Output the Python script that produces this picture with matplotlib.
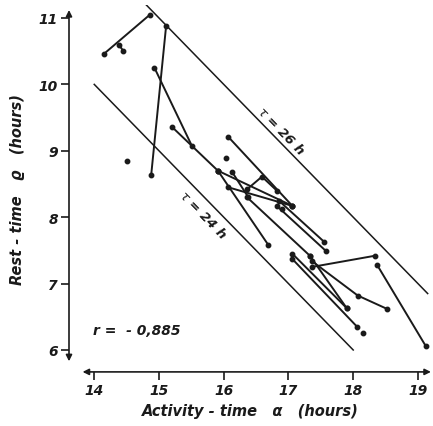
import numpy as np
import matplotlib
matplotlib.use('Agg')
import matplotlib.pyplot as plt

# segments: activity-time alpha (x) and rest-time rho (y), one list per animal
seg_alpha = [
    [14.15, 14.86],
    [14.38, 14.45],
    [14.88, 15.11],
    [14.93, 15.51],
    [15.20, 15.91],
    [15.91, 16.69],
    [15.91, 17.06],
    [16.07, 17.06],
    [16.13, 16.38],
    [16.36, 16.59, 16.82],
    [16.07, 17.06],
    [16.85, 17.55],
    [16.82, 17.58],
    [16.36, 17.33],
    [17.06, 17.90],
    [17.06, 18.06],
    [17.33, 17.90],
    [17.36, 18.07, 18.52],
    [17.36, 18.34],
    [18.37, 19.12],
]
seg_rho = [
    [10.46, 11.05],
    [10.60, 10.50],
    [8.64, 10.88],
    [10.25, 9.07],
    [9.36, 8.70],
    [8.70, 7.58],
    [8.70, 8.17],
    [8.45, 8.17],
    [8.68, 8.30],
    [8.42, 8.61, 8.40],
    [9.21, 8.17],
    [8.25, 7.63],
    [8.17, 7.49],
    [8.30, 7.42],
    [7.45, 6.63],
    [7.37, 6.35],
    [7.42, 6.63],
    [7.34, 6.82, 6.62],
    [7.25, 7.42],
    [7.28, 6.06],
]
single_alpha = [14.51, 16.04, 18.15, 16.90]
single_rho = [8.85, 8.89, 6.26, 8.12]

taus = [24, 26]
tau_alpha = [[14.0, 18.0], [14.8, 19.15]]

ink = '#1a1a1a'

fig = plt.figure(figsize=(4.33, 4.27), dpi=100)
ax = fig.add_axes([69/433, 1-372.9/427, (430.9-69)/433, (372.9-5.7)/427])
ax.set_xlim(13.61, 19.2)
ax.set_ylim(5.67, 11.2)
for s in ax.spines.values():
    s.set_visible(False)

# tau lines  (alpha + rho = tau)
for t, xs in zip(taus, tau_alpha):
    xs = np.array(xs)
    ax.plot(xs, t - xs, color=ink, lw=1.1)

ax.text(16.89, 9.31, r'$\tau$ = 26 h', rotation=-45.7, ha='center', va='center',
        fontsize=9.5, fontstyle='italic', fontweight='bold', color=ink,
        rotation_mode='anchor')
ax.text(15.68, 8.05, r'$\tau$ = 24 h', rotation=-45.7, ha='center', va='center',
        fontsize=9.5, fontstyle='italic', fontweight='bold', color=ink,
        rotation_mode='anchor')

for xa, ya in zip(seg_alpha, seg_rho):
    ax.plot(xa, ya, color=ink, lw=1.4, marker='o', ms=3.2)
ax.plot(single_alpha, single_rho, 'o', color=ink, ms=3.2)

ax.text(13.98, 6.30, 'r =  - 0,885', ha='left', va='center', fontsize=10,
        fontstyle='italic', fontweight='bold', color=ink)

# axes with arrows
ax.annotate('', xy=(13.61, 11.12), xytext=(13.61, 5.83),
            arrowprops=dict(arrowstyle='<|-|>', color=ink, lw=1.2,
                            mutation_scale=9, shrinkA=0, shrinkB=0),
            annotation_clip=False)
ax.annotate('', xy=(19.2, 5.67), xytext=(13.82, 5.67),
            arrowprops=dict(arrowstyle='<|-|>', color=ink, lw=1.2,
                            mutation_scale=9, shrinkA=0, shrinkB=0),
            annotation_clip=False)

ax.set_xticks([14, 15, 16, 17, 18, 19])
ax.set_yticks([6, 7, 8, 9, 10, 11])
ax.tick_params(direction='out', length=6, width=1.2, color=ink, labelcolor=ink,
               labelsize=10, pad=2)
for lab in ax.get_xticklabels() + ax.get_yticklabels():
    lab.set_fontstyle('italic')
    lab.set_fontweight('bold')

ax.set_xlabel('Activity - time   α   (hours)', fontsize=10.5, fontstyle='italic',
              fontweight='bold', color=ink, labelpad=4)
ax.set_ylabel('Rest - time   ϱ   (hours)', fontsize=10.5, fontstyle='italic',
              fontweight='bold', color=ink, labelpad=10)

fig.savefig('out.png', dpi=100)
